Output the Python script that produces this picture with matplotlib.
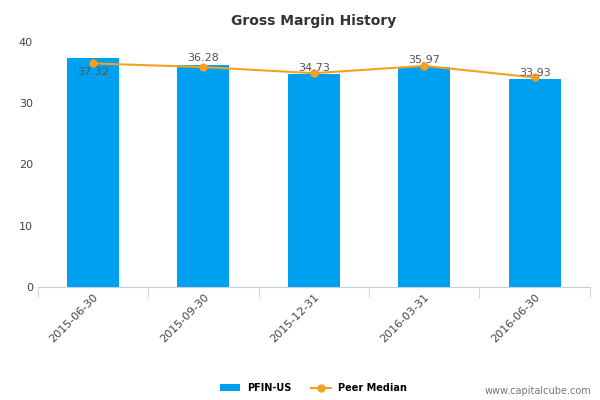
import matplotlib.pyplot as plt

dates = ["2015-06-30", "2015-09-30", "2015-12-31", "2016-03-31", "2016-06-30"]
pfin = [37.32, 36.28, 34.73, 35.97, 33.93]
peer = [36.5, 35.9, 34.9, 36.1, 34.2]

fig = plt.figure(figsize=(6, 4), dpi=100)
ax = fig.add_axes([0.063, 0.283, 0.92, 0.612])
xs = range(len(dates))
bars = ax.bar(xs, pfin, width=0.47, color="#00a0f0", zorder=2)
line, = ax.plot(xs, peer, color="#f5a01e", lw=1.5, marker="o", ms=5, zorder=3)
for i, v in enumerate(pfin):
    if i == 0:
        ax.annotate(f"{v:.2f}", (i, v), xytext=(0, -6), textcoords="offset points",
                    ha="center", va="top", fontsize=8, color="#555555", zorder=4)
    else:
        ax.annotate(f"{v:.2f}", (i, v), xytext=(0, 1), textcoords="offset points",
                    ha="center", va="bottom", fontsize=8, color="#555555", zorder=4)

ax.set_xlim(-0.5, 4.5)
ax.set_ylim(0, 40)
ax.set_yticks([0, 10, 20, 30, 40])
ax.set_xticks(xs)
ax.set_xticklabels(dates, rotation=45, ha="right", rotation_mode="anchor", fontsize=8, color="#444444")
ax.tick_params(axis="y", length=0, labelsize=8, labelcolor="#444444")
ax.tick_params(axis="x", length=0)
ax.set_xticks([-0.5 + k for k in range(6)], minor=True)
ax.tick_params(axis="x", which="minor", length=8, color="#c0d0e0")
for s in ["top", "right", "left"]:
    ax.spines[s].set_visible(False)
ax.spines["bottom"].set_color("#c0d0e0")
ax.set_title("Gross Margin History", fontsize=10, fontweight="bold", color="#333333", pad=12)

ax.legend([bars, line], ["PFIN-US", "Peer Median"], loc="lower center", bbox_to_anchor=(0.5, -0.47),
          ncol=2, frameon=False, prop={"size": 7, "weight": "bold"})
fig.text(0.985, 0.015, "www.capitalcube.com", ha="right", fontsize=7, color="#777777")
fig.savefig("out.png")
